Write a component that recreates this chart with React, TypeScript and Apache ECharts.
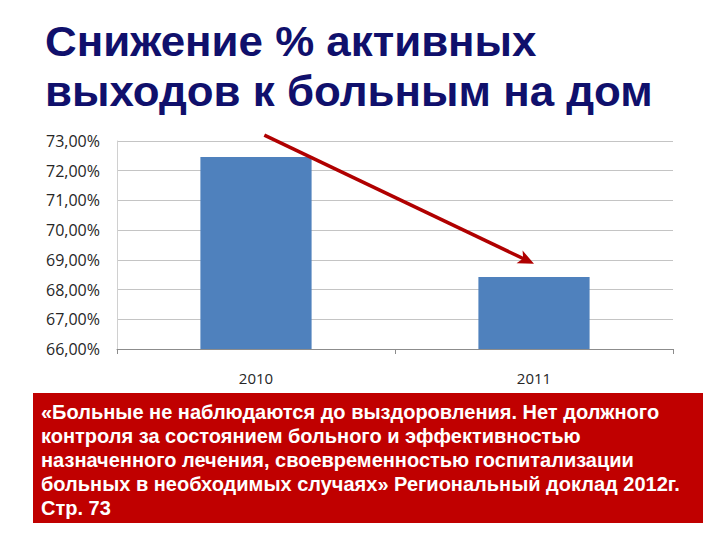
import React, { useEffect, useRef } from "react";
import * as echarts from "echarts";

const titleLines = ["Снижение % активных", "выходов к больным на дом"];
const categories = ["2010", "2011"];
const values = [72.46, 68.42];
const yMin = 66;
const yMax = 73;
const yStep = 1;
// arrow annotation in data space: [category index (fractional), value]
const arrowFrom = [0.03, 73.2];
const arrowTo = [1.0, 68.87];
const noteLines = [
  "«Больные не наблюдаются до выздоровления. Нет должного",
  "контроля за состоянием больного и эффективностью",
  "назначенного лечения, своевременностью госпитализации",
  "больных в необходимых случаях» Региональный доклад 2012г.",
  "Стр. 73",
];

export default function App() {
  const ref = useRef<HTMLDivElement>(null);
  useEffect(() => {
    if (!ref.current) return;
    const chart = echarts.init(ref.current, null, { renderer: "svg" });
    chart.setOption({
      animation: false,
      backgroundColor: "#ffffff",
      grid: { left: 117, right: 47, top: 141, bottom: 191, containLabel: false },
      xAxis: {
        type: "category",
        data: categories,
        axisLine: { show: true, lineStyle: { color: "#8c8c8c", width: 1 } },
        axisTick: { show: true, alignWithLabel: false, length: 5, lineStyle: { color: "#8c8c8c" } },
        axisLabel: { margin: 21, fontSize: 15, color: "#262626", fontFamily: "Open Sans" },
        splitLine: { show: false },
      },
      yAxis: {
        type: "value",
        min: yMin,
        max: yMax,
        interval: yStep,
        axisLine: { show: true, lineStyle: { color: "#d0d0d0" } },
        axisTick: { show: false },
        axisLabel: {
          margin: 17,
          fontSize: 16,
          color: "#262626",
          fontFamily: "Open Sans",
          formatter: (v: number) => v.toFixed(2).replace(".", ",") + "%",
        },
        splitLine: { show: true, lineStyle: { color: "#c4c4c4", width: 1 } },
      },
      series: [
        {
          type: "bar",
          data: values,
          barWidth: "40%",
          itemStyle: { color: "#4f81bd" },
        },
      ],
    });

    const toPx = (pt: number[]) => {
      const i0 = Math.floor(pt[0]);
      const a = chart.convertToPixel({ gridIndex: 0 }, [i0, pt[1]]) as number[];
      const b = chart.convertToPixel({ gridIndex: 0 }, [i0 + 1, pt[1]]) as number[];
      const f = pt[0] - i0;
      return [a[0] + (b[0] - a[0]) * f, a[1]];
    };
    const p0 = toPx(arrowFrom);
    const p1 = toPx(arrowTo);
    const dx = p1[0] - p0[0];
    const dy = p1[1] - p0[1];
    const len = Math.sqrt(dx * dx + dy * dy);
    const ux = dx / len;
    const uy = dy / len;
    const headLen = 16;
    const headW = 7;
    const bx = p1[0] - ux * headLen;
    const by = p1[1] - uy * headLen;
    const head = [
      [p1[0], p1[1]],
      [bx - uy * headW, by + ux * headW],
      [bx + ux * 4, by + uy * 4],
      [bx + uy * headW, by - ux * headW],
    ];

    chart.setOption({
      graphic: [
        {
          type: "text",
          x: 45,
          y: 16,
          scaleX: 1.045,
          style: {
            text: titleLines.join("\n"),
            font: "bold 42px 'Liberation Sans', Arial, sans-serif",
            lineHeight: 50,
            fill: "#10106c",
          },
        },
        {
          type: "line",
          shape: { x1: p0[0], y1: p0[1], x2: bx + ux * 5, y2: by + uy * 5 },
          style: { stroke: "#b00000", lineWidth: 3.5 },
          z: 100,
        },
        {
          type: "polygon",
          shape: { points: head },
          style: { fill: "#b00000" },
          z: 100,
        },
        {
          type: "rect",
          shape: { x: 33, y: 393, width: 670, height: 130 },
          style: { fill: "#c00000" },
        },
        {
          type: "text",
          x: 41,
          y: 400,
          style: {
            text: noteLines.join("\n"),
            font: "bold 20px 'Liberation Sans', Arial, sans-serif",
            lineHeight: 24,
            fill: "#ffffff",
          },
        },
      ],
    });
    return () => chart.dispose();
  }, []);
  return (
    <div
      ref={ref}
      style={{ position: "fixed", left: 0, top: 0, width: 720, height: 540 }}
    />
  );
}
